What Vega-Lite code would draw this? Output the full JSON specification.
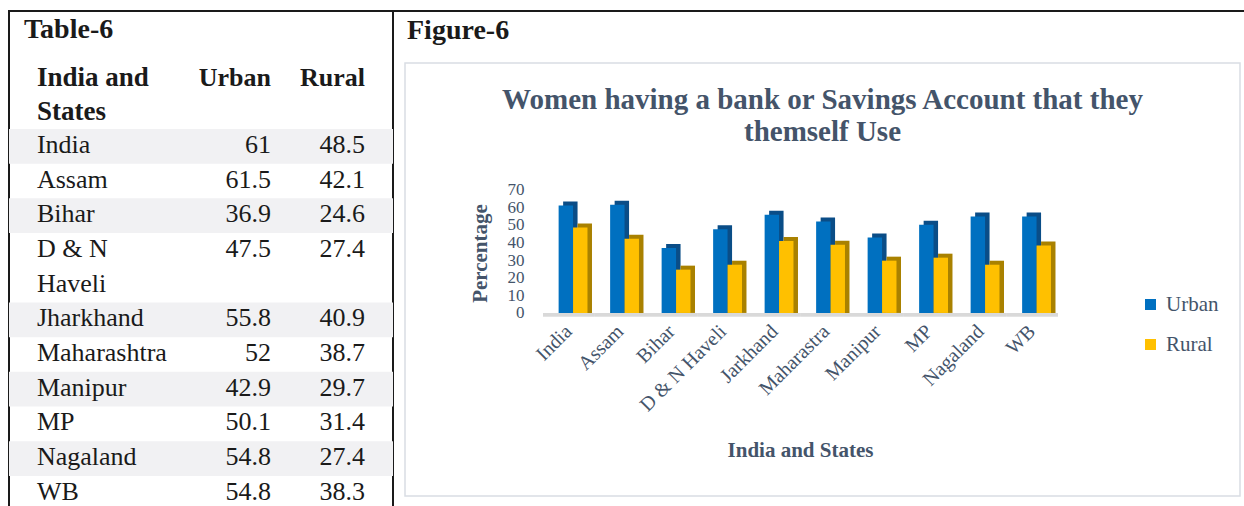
{
  "$schema": "https://vega.github.io/schema/vega-lite/v6.json",
  "padding": {"left": 8, "top": 10, "right": 0, "bottom": 0},
  "background": "white",
  "datasets": {
    "states": [
      {"row": 0, "line": 0, "state": "India", "chart": "India", "Urban": 61, "Rural": 48.5},
      {"row": 1, "line": 1, "state": "Assam", "chart": "Assam", "Urban": 61.5, "Rural": 42.1},
      {"row": 2, "line": 2, "state": "Bihar", "chart": "Bihar", "Urban": 36.9, "Rural": 24.6},
      {"row": 3, "line": 3, "state": "D & N\nHaveli", "chart": "D & N Haveli", "Urban": 47.5, "Rural": 27.4},
      {"row": 4, "line": 5, "state": "Jharkhand", "chart": "Jarkhand", "Urban": 55.8, "Rural": 40.9},
      {"row": 5, "line": 6, "state": "Maharashtra", "chart": "Maharastra", "Urban": 52, "Rural": 38.7},
      {"row": 6, "line": 7, "state": "Manipur", "chart": "Manipur", "Urban": 42.9, "Rural": 29.7},
      {"row": 7, "line": 8, "state": "MP", "chart": "MP", "Urban": 50.1, "Rural": 31.4},
      {"row": 8, "line": 9, "state": "Nagaland", "chart": "Nagaland", "Urban": 54.8, "Rural": 27.4},
      {"row": 9, "line": 10, "state": "WB", "chart": "WB", "Urban": 54.8, "Rural": 38.3}
    ],
    "header": [
      {"line": -2, "label": "India and", "urban": "Urban", "rural": "Rural"},
      {"line": -1, "label": "States", "urban": "", "rural": ""}
    ]
  },
  "hconcat": [
    {
      "width": 384,
      "height": 510,
      "view": {"stroke": "#1a1a1a", "strokeWidth": 2},
      "title": {"text": "Table-6", "orient": "top", "anchor": "start", "frame": "group", "offset": -33, "dx": 15, "fontSize": 28, "fontWeight": "bold", "font": "Liberation Serif", "color": "#1a1a1a"},
      "layer": [
        {
          "data": {"name": "states"},
          "transform": [{"filter": "datum.row % 2 == 0"}],
          "mark": {"type": "bar", "color": "#f1f1f3"},
          "encoding": {
            "y": {"field": "line", "type": "ordinal", "scale": {"type": "band", "domain": [-2, -1, 0, 1, 2, 3, 4, 5, 6, 7, 8, 9, 10], "paddingInner": 0, "paddingOuter": 0.85, "align": 0.824}, "axis": null}
          }
        },
        {
          "data": {"name": "states"},
          "mark": {"type": "text", "align": "left", "baseline": "alphabetic", "fontSize": 26, "font": "Liberation Serif", "color": "#1a1a1a", "lineBreak": "\n", "lineHeight": 34.7},
          "encoding": {
            "y": {"field": "line", "type": "ordinal", "bandPosition": 0.69, "scale": {"type": "band", "domain": [-2, -1, 0, 1, 2, 3, 4, 5, 6, 7, 8, 9, 10], "paddingInner": 0, "paddingOuter": 0.85, "align": 0.824}, "axis": null},
            "x": {"datum": "State", "type": "nominal", "bandPosition": 0.033, "scale": {"type": "band", "domain": ["State", "Urban", "Rural"], "paddingInner": 0, "paddingOuter": 0.1, "align": 1}, "axis": null},
            "text": {"field": "state", "type": "nominal"}
          }
        },
        {
          "data": {"name": "states"},
          "mark": {"type": "text", "align": "right", "baseline": "alphabetic", "fontSize": 26, "font": "Liberation Serif", "color": "#1a1a1a"},
          "encoding": {
            "y": {"field": "line", "type": "ordinal", "bandPosition": 0.69, "scale": {"type": "band", "domain": [-2, -1, 0, 1, 2, 3, 4, 5, 6, 7, 8, 9, 10], "paddingInner": 0, "paddingOuter": 0.85, "align": 0.824}, "axis": null},
            "x": {"datum": "Urban", "type": "nominal", "bandPosition": 0.983, "scale": {"type": "band", "domain": ["State", "Urban", "Rural"], "paddingInner": 0, "paddingOuter": 0.1, "align": 1}, "axis": null},
            "text": {"field": "Urban", "type": "nominal"}
          }
        },
        {
          "data": {"name": "states"},
          "mark": {"type": "text", "align": "right", "baseline": "alphabetic", "fontSize": 26, "font": "Liberation Serif", "color": "#1a1a1a"},
          "encoding": {
            "y": {"field": "line", "type": "ordinal", "bandPosition": 0.69, "scale": {"type": "band", "domain": [-2, -1, 0, 1, 2, 3, 4, 5, 6, 7, 8, 9, 10], "paddingInner": 0, "paddingOuter": 0.85, "align": 0.824}, "axis": null},
            "x": {"datum": "Rural", "type": "nominal", "bandPosition": 0.767, "scale": {"type": "band", "domain": ["State", "Urban", "Rural"], "paddingInner": 0, "paddingOuter": 0.1, "align": 1}, "axis": null},
            "text": {"field": "Rural", "type": "nominal"}
          }
        },
        {
          "data": {"name": "header"},
          "mark": {"type": "text", "align": "left", "baseline": "alphabetic", "fontSize": 27, "fontWeight": "bold", "font": "Liberation Serif", "color": "#1a1a1a"},
          "encoding": {
            "y": {"field": "line", "type": "ordinal", "bandPosition": 0.75, "scale": {"type": "band", "domain": [-2, -1, 0, 1, 2, 3, 4, 5, 6, 7, 8, 9, 10], "paddingInner": 0, "paddingOuter": 0.85, "align": 0.824}, "axis": null},
            "x": {"datum": "State", "type": "nominal", "bandPosition": 0.033, "scale": {"type": "band", "domain": ["State", "Urban", "Rural"], "paddingInner": 0, "paddingOuter": 0.1, "align": 1}, "axis": null},
            "text": {"field": "label", "type": "nominal"}
          }
        },
        {
          "data": {"name": "header"},
          "mark": {"type": "text", "align": "right", "baseline": "alphabetic", "fontSize": 26, "fontWeight": "bold", "font": "Liberation Serif", "color": "#1a1a1a"},
          "encoding": {
            "y": {"field": "line", "type": "ordinal", "bandPosition": 0.75, "scale": {"type": "band", "domain": [-2, -1, 0, 1, 2, 3, 4, 5, 6, 7, 8, 9, 10], "paddingInner": 0, "paddingOuter": 0.85, "align": 0.824}, "axis": null},
            "x": {"datum": "Urban", "type": "nominal", "bandPosition": 0.983, "scale": {"type": "band", "domain": ["State", "Urban", "Rural"], "paddingInner": 0, "paddingOuter": 0.1, "align": 1}, "axis": null},
            "text": {"field": "urban", "type": "nominal"}
          }
        },
        {
          "data": {"name": "header"},
          "mark": {"type": "text", "align": "right", "baseline": "alphabetic", "fontSize": 26, "fontWeight": "bold", "font": "Liberation Serif", "color": "#1a1a1a"},
          "encoding": {
            "y": {"field": "line", "type": "ordinal", "bandPosition": 0.75, "scale": {"type": "band", "domain": [-2, -1, 0, 1, 2, 3, 4, 5, 6, 7, 8, 9, 10], "paddingInner": 0, "paddingOuter": 0.85, "align": 0.824}, "axis": null},
            "x": {"datum": "Rural", "type": "nominal", "bandPosition": 0.767, "scale": {"type": "band", "domain": ["State", "Urban", "Rural"], "paddingInner": 0, "paddingOuter": 0.1, "align": 1}, "axis": null},
            "text": {"field": "rural", "type": "nominal"}
          }
        }
      ]
    },
    {
      "vconcat": [
        {
          "width": 859,
          "height": 0.01,
          "view": {"stroke": "#1a1a1a", "strokeWidth": 2},
          "title": {"text": "Figure-6", "orient": "bottom", "anchor": "start", "frame": "group", "offset": 6, "dx": 14, "fontSize": 28, "fontWeight": "bold", "font": "Liberation Serif", "color": "#1a1a1a"},
          "data": {"values": []},
          "mark": "point",
          "encoding": {}
        },
        {
          "width": 835,
          "height": 433,
          "view": {"stroke": "#d9dde4", "strokeWidth": 1.5},
          "title": {"text": ["Women having a bank or Savings Account that they", "themself Use"], "orient": "top", "anchor": "middle", "frame": "group", "offset": -84, "fontSize": 29, "fontWeight": "bold", "font": "Liberation Serif", "color": "#44546a", "lineHeight": 32},
          "data": {"name": "states"},
          "transform": [{"fold": ["Urban", "Rural"], "as": ["series", "value"]}],
          "encoding": {
            "x": {
              "field": "chart", "type": "nominal", "sort": null,
              "scale": {"type": "band", "domain": ["India", "Assam", "Bihar", "D & N Haveli", "Jarkhand", "Maharastra", "Manipur", "MP", "Nagaland", "WB"], "range": [138, 653], "paddingInner": 0, "paddingOuter": 0},
              "axis": {"domain": false, "ticks": false, "tickSize": 0, "grid": false, "offset": -183, "labelAngle": -45, "labelAlign": "right", "labelBaseline": "middle", "labelPadding": 15, "labelOverlap": false, "labelFont": "Liberation Serif", "labelFontSize": 20, "labelColor": "#44546a", "title": "India and States", "titleFont": "Liberation Serif", "titleFontSize": 21, "titleFontWeight": "bold", "titleColor": "#44546a", "titleX": 395, "titleY": 143, "titleBaseline": "alphabetic"}
            },
            "y": {
              "field": "value", "type": "quantitative",
              "scale": {"domain": [-104, 142], "nice": false, "zero": false},
              "axis": {"values": [0, 10, 20, 30, 40, 50, 60, 70], "domain": false, "ticks": false, "tickSize": 0, "grid": false, "offset": -119, "labelPadding": 0, "labelOverlap": false, "labelFont": "Liberation Serif", "labelFontSize": 17, "labelColor": "#44546a", "title": "Percentage", "titleFont": "Liberation Serif", "titleFontSize": 21, "titleFontWeight": "bold", "titleColor": "#44546a", "titlePadding": 17, "titleY": 190}
            }
          },
          "layer": [
            {
              "mark": {"type": "rect", "color": "#d9d9d9"},
              "encoding": {"y": {"datum": 0, "type": "quantitative"}, "y2": {"datum": -2}}
            },
            {
              "transform": [{"filter": "datum.series == 'Urban'"}],
              "mark": {"type": "bar", "color": "#0a4d87", "yOffset": -4},
              "encoding": {
                "xOffset": {"field": "series", "type": "nominal", "scale": {"domain": ["Urban", "Rural"], "paddingInner": 0, "paddingOuter": 0.785, "align": 0.889}},
                "y2": {"datum": 0}
              }
            },
            {
              "transform": [{"filter": "datum.series == 'Rural'"}],
              "mark": {"type": "bar", "color": "#a98100", "yOffset": -4},
              "encoding": {
                "xOffset": {"field": "series", "type": "nominal", "scale": {"domain": ["Urban", "Rural"], "paddingInner": 0, "paddingOuter": 0.785, "align": 0.889}},
                "y2": {"datum": 0}
              }
            },
            {
              "mark": {"type": "bar"},
              "encoding": {
                "xOffset": {"field": "series", "type": "nominal", "scale": {"domain": ["Urban", "Rural"], "paddingInner": 0, "paddingOuter": 0.785, "align": 0.69}},
                "y2": {"datum": 0},
                "color": {
                  "field": "series", "type": "nominal",
                  "scale": {"domain": ["Urban", "Rural"], "range": ["#0070c0", "#ffc000"]},
                  "legend": {"orient": "none", "legendX": 1131, "legendY": 283, "title": null, "symbolType": "square", "symbolSize": 121, "symbolStrokeWidth": 0, "labelFont": "Liberation Serif", "labelFontSize": 21, "labelColor": "#44546a", "rowPadding": 18, "labelOffset": 5, "padding": 0}
                }
              }
            }
          ],
          "resolve": {"scale": {"xOffset": "independent"}}
        }
      ],
      "spacing": 51,
      "bounds": "flush",
      "center": true
    }
  ],
  "spacing": 0,
  "bounds": "flush",
  "config": {"font": "Liberation Serif"}
}
